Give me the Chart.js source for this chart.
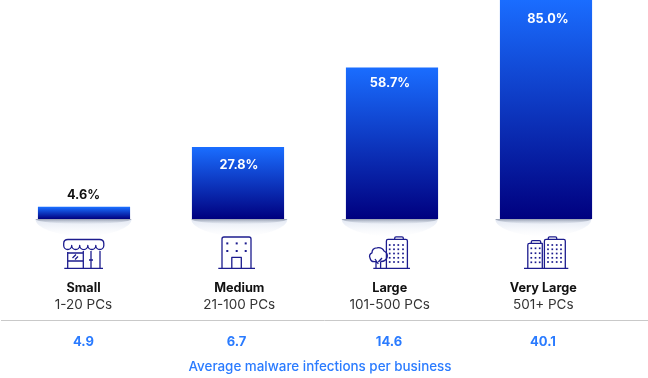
<!DOCTYPE html>
<html>
<head>
<meta charset="utf-8">
<style>
  html, body { margin: 0; padding: 0; background: #fff; }
  canvas { display: block; }
</style>
<script src="https://cdn.jsdelivr.net/npm/chart.js@4"></script>
</head>
<body>
<canvas id="chart" width="648" height="378"></canvas>
<script>
const categories = ["Small", "Medium", "Large", "Very Large"];
const pcRanges = ["1-20 PCs", "21-100 PCs", "101-500 PCs", "501+ PCs"];
const infectedShare = [4.6, 27.8, 58.7, 85.0];
const avgInfections = ["4.9", "6.7", "14.6", "40.1"];
const caption = "Average malware infections per business";

const FONT = "Inter, 'Noto Sans', sans-serif";
const NAVY = "#1c1c8e";
const BLUE_TEXT = "#2a7bff";

// small nudges, the text in the reference is not quite centred on the bars
const nameNudge = [-0.5, 1.3, -2.3, -2.7];
const valueNudge = [-0.5, -1.5, -3, -3];
const barLabelNudge = [-0.5, 1, -2, 2];
const barLabelDrop = [0, 17.5, 15.5, 19];

function barGradient(ctx) {
  const y = ctx.chart.scales.y;
  if (ctx.raw === undefined || !y) return "#0a3fd0";
  const top = y.getPixelForValue(ctx.raw);
  const bottom = y.getPixelForValue(0);
  if (!isFinite(top) || !isFinite(bottom)) return "#0a3fd0";
  const g = ctx.chart.ctx.createLinearGradient(0, top, 0, bottom);
  g.addColorStop(0, "#1a6dff");
  g.addColorStop(1, "#00007f");
  return g;
}

// soft shadow under each bar
function drawShadow(c, cx, y) {
  c.save();
  c.beginPath();
  c.rect(cx - 50, y, 100, 20);
  c.clip();
  c.beginPath();
  c.ellipse(cx, y, 48, 17, 0, 0, Math.PI * 2);
  const g = c.createLinearGradient(0, y, 0, y + 17);
  g.addColorStop(0, "rgba(212,220,236,0.7)");
  g.addColorStop(0.5, "rgba(236,240,248,0.6)");
  g.addColorStop(1, "rgba(250,251,254,0.2)");
  c.fillStyle = g;
  c.fill();
  c.restore();

  c.save();
  c.beginPath();
  c.rect(cx - 50, y, 100, 8);
  c.clip();
  c.beginPath();
  c.ellipse(cx, y, 48, 5, 0, 0, Math.PI * 2);
  const d = c.createLinearGradient(0, y, 0, y + 5);
  d.addColorStop(0, "rgba(120,130,150,0.75)");
  d.addColorStop(1, "rgba(190,198,214,0.1)");
  c.fillStyle = d;
  c.fill();
  c.restore();
}

function dots(c, xs, ys, s) {
  c.fillStyle = NAVY;
  xs.forEach((x) => ys.forEach((y) => c.fillRect(x - s / 2, y - s / 2, s, s)));
}

function line(c, d) {
  c.stroke(new Path2D(d));
}

function drawIcons(c) {
  c.save();
  c.strokeStyle = NAVY;
  c.lineWidth = 1.3;
  c.lineJoin = "round";
  // shop
  line(c, "M63.7 245.5 V243.5 Q63.7 239.5 68 239.5 H99.5 Q103.8 239.5 103.8 243.5 V245.5 A4 4 0 0 1 95.8 245.5 A4 4 0 0 1 87.8 245.5 A4 4 0 0 1 79.7 245.5 A4 4 0 0 1 71.7 245.5 A4 4 0 0 1 63.7 245.5 Z");
  line(c, "M64.3 268.4 H103 M67.7 252 V268.4 M83.3 251 V268.4 M91 251 V268.4 M100 251 V268.4 M67.7 253 H83.3 M67.7 261 H83.3 M89 260 H93 M72.5 258 L76 254.5 M75 259.5 L78 256.5");
  // medium office
  line(c, "M218.3 268.4 H255 M222 268.4 V239 Q222 237 224 237 H249 Q251 237 251 239 V268.4 M231.8 268.4 V257.4 H241.3 V268.4");
  dots(c, [227.3, 236.7, 245.7], [243.4, 251], 2);
  // large office and tree
  line(c, "M373.3 268.4 H410 M386.4 268.4 V241 Q386.4 239.4 388 239.4 H405.8 Q407.4 239.4 407.4 241 V268.4 M394.7 239.4 V238 Q394.7 236.8 396 236.8 H402 Q403.3 236.8 403.3 238 V239.4");
  line(c, "M376 268.4 V261.5 M380.6 268.4 V261.5 M376 261.5 Q371 262.5 370 258 Q368.5 254.5 372 252.8 Q372 248 377 247.8 Q382 247 384 251 Q388 253 387.2 257 Q386 261.5 380.6 261.5 M378.3 264 L375 259 M378.3 262 L382 258");
  dots(c, [389.7, 394, 398.3, 403], [245, 249.3, 253.5, 257.8, 262], 1.7);
  // two towers
  line(c, "M524 268.4 H568.3 M527.8 268.4 V245 Q527.8 243.4 529.4 243.4 H542.3 V268.4 M531.3 243.4 V242 Q531.3 240.7 532.6 240.7 H539.4 Q540.7 240.7 540.7 242 V243.4 M544.4 268.4 V241 Q544.4 239.4 546 239.4 H563.7 Q565.3 239.4 565.3 241 V268.4 M548.3 239.4 V238 Q548.3 236.8 549.6 236.8 H555.4 Q556.7 236.8 556.7 238 V239.4");
  dots(c, [531.3, 535.5, 539.7], [248.3, 253.2, 257.8, 262.3], 1.7);
  dots(c, [548, 552.3, 556.7, 561], [245, 249.3, 253.5, 257.8, 262], 1.7);
  c.restore();
}

const overlay = {
  id: "overlay",
  beforeDatasetsDraw(chart) {
    const meta = chart.getDatasetMeta(0);
    meta.data.forEach((bar, i) => drawShadow(chart.ctx, bar.x + nameNudge[i], bar.base));
  },
  afterDraw(chart) {
    const c = chart.ctx;
    const meta = chart.getDatasetMeta(0);
    const x = chart.scales.x;
    c.save();
    c.textAlign = "center";
    c.textBaseline = "middle";

    meta.data.forEach((bar, i) => {
      const small = infectedShare[i] < 10;
      c.font = "700 12.7px " + FONT;
      c.fillStyle = small ? "#111" : "#fff";
      const y = small ? bar.y - 11.5 : bar.y + barLabelDrop[i];
      c.fillText(infectedShare[i].toFixed(1) + "%", bar.x + barLabelNudge[i], y);
    });

    categories.forEach((name, i) => {
      const cx = x.getPixelForValue(i);
      c.fillStyle = "#111";
      c.font = "700 12.7px " + FONT;
      c.fillText(name, cx + nameNudge[i], 288.5);
      c.fillStyle = "#333";
      c.font = "400 13.5px " + FONT;
      c.fillText(pcRanges[i], cx + nameNudge[i], 304.5);
      c.fillStyle = BLUE_TEXT;
      c.font = "700 13px " + FONT;
      c.fillText(avgInfections[i], cx + valueNudge[i], 342.5);
    });

    c.fillStyle = BLUE_TEXT;
    c.font = "500 13.4px " + FONT;
    c.fillText(caption, 320, 366.5);

    c.strokeStyle = "#c9c9c9";
    c.lineWidth = 1;
    c.beginPath();
    c.moveTo(1, 320.5);
    c.lineTo(648, 320.5);
    c.stroke();
    c.restore();

    drawIcons(c);
  },
};

new Chart(document.getElementById("chart"), {
  type: "bar",
  data: {
    labels: categories,
    datasets: [
      {
        data: infectedShare,
        backgroundColor: barGradient,
        barThickness: 91.5,
        borderWidth: 0,
      },
    ],
  },
  options: {
    responsive: false,
    animation: false,
    layout: { padding: { left: 7, right: 25, top: 0, bottom: 159 } },
    plugins: { legend: { display: false }, tooltip: { enabled: false } },
    scales: {
      x: { display: false },
      y: { display: false, min: 0, max: 85 },
    },
  },
  plugins: [overlay],
});
</script>
</body>
</html>
